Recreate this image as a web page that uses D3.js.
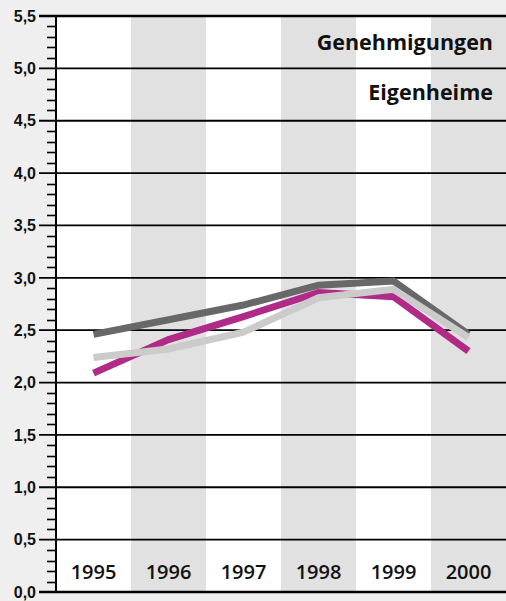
<!DOCTYPE html>
<html><head><meta charset="utf-8">
<script src="https://cdn.jsdelivr.net/npm/d3@7"></script>
<style>html,body{margin:0;padding:0;background:#efefef;}svg{display:block;}</style>
</head><body>
<svg id="c" width="506" height="601"></svg>
<script>
const years = ["1995","1996","1997","1998","1999","2000"];
const seriesDark = [2.46, 2.60, 2.74, 2.93, 2.97, 2.46];
const seriesMagenta = [2.09, 2.41, 2.63, 2.86, 2.82, 2.30];
const seriesLight = [2.24, 2.32, 2.48, 2.81, 2.89, 2.43];
const majorTicks = [0,0.5,1,1.5,2,2.5,3,3.5,4,4.5,5,5.5];
const titleLines = ["Genehmigungen","Eigenheime"];

(function(){
const svg = d3.select("#c");
const W = 506, H = 601;
const pL = 56, pR = 506, pT = 16, pB = 592;
const x = d3.scaleBand().domain(years).range([pL, pR]);
const y = d3.scaleLinear().domain([0, 5.5]).range([pB, pT]);

svg.append("rect").attr("width", W).attr("height", H).attr("fill", "#efefef");
svg.append("rect").attr("x", pL).attr("y", pT).attr("width", pR-pL).attr("height", pB-pT).attr("fill", "#ffffff");
svg.selectAll("rect.band").data(years).enter().append("rect")
  .attr("class","band")
  .attr("x", d => x(d)).attr("y", pT).attr("width", x.bandwidth()).attr("height", pB-pT)
  .attr("fill", (d,i) => i % 2 ? "#e1e1e1" : "#ffffff");

// minor ticks
const minor = d3.range(0, 55).map(i => i/10).filter(v => Math.round(v*10) % 5 !== 0);
svg.selectAll("line.minor").data(minor).enter().append("line")
  .attr("class","minor")
  .attr("x1", 47).attr("x2", pL).attr("y1", d => Math.round(y(d))+0.5).attr("y2", d => Math.round(y(d))+0.5)
  .attr("stroke", "#000").attr("stroke-width", 1.6);

// gridlines + major ticks
svg.selectAll("line.grid").data(majorTicks).enter().append("line")
  .attr("class","grid")
  .attr("x1", 39).attr("x2", pR).attr("y1", d => y(d)).attr("y2", d => y(d))
  .attr("stroke", "#000").attr("stroke-width", d => (d === 0 || d === 5.5) ? 2.5 : 1.8);

// axis line
svg.append("line").attr("x1", pL).attr("x2", pL).attr("y1", pT-1).attr("y2", pB+1)
  .attr("stroke", "#000").attr("stroke-width", 2);

// y labels
const fmt = v => d3.format(".1f")(v).replace(".", ",");
svg.selectAll("text.yl").data(majorTicks).enter().append("text")
  .attr("class","yl")
  .attr("x", 36).attr("y", d => y(d)).attr("dy", "0.36em")
  .attr("text-anchor", "end")
  .attr("font-family", "Liberation Sans, Arial, sans-serif").attr("font-weight", "bold").attr("font-size", 16)
  .attr("fill", "#111")
  .text(fmt);

// year labels
svg.selectAll("text.xl").data(years).enter().append("text")
  .attr("class","xl")
  .attr("x", d => x(d) + x.bandwidth()/2).attr("y", 579)
  .attr("text-anchor", "middle")
  .attr("font-family", "Open Sans, sans-serif").attr("font-weight", 600).attr("font-size", 20)
  .attr("fill", "#111")
  .text(d => d);

// title
svg.selectAll("text.tl").data(titleLines).enter().append("text")
  .attr("class","tl")
  .attr("x", 493).attr("y", (d,i) => 50 + i*50)
  .attr("text-anchor", "end")
  .attr("font-family", "Open Sans, sans-serif").attr("font-weight", 700).attr("font-size", 21.5)
  .attr("fill", "#111")
  .text(d => d);

// lines
const line = d3.line().x((d,i) => x(years[i]) + x.bandwidth()/2).y(d => y(d));
const series = [
  {vals: seriesDark, color: "#686868"},
  {vals: seriesMagenta, color: "#b02a88"},
  {vals: seriesLight, color: "#cbcbcb"}
];
svg.selectAll("path.s").data(series).enter().append("path")
  .attr("class","s")
  .attr("d", d => line(d.vals))
  .attr("fill", "none").attr("stroke", d => d.color).attr("stroke-width", 7)
  .attr("stroke-linejoin", "miter").attr("stroke-linecap", "butt");
})();
</script>
</body></html>
